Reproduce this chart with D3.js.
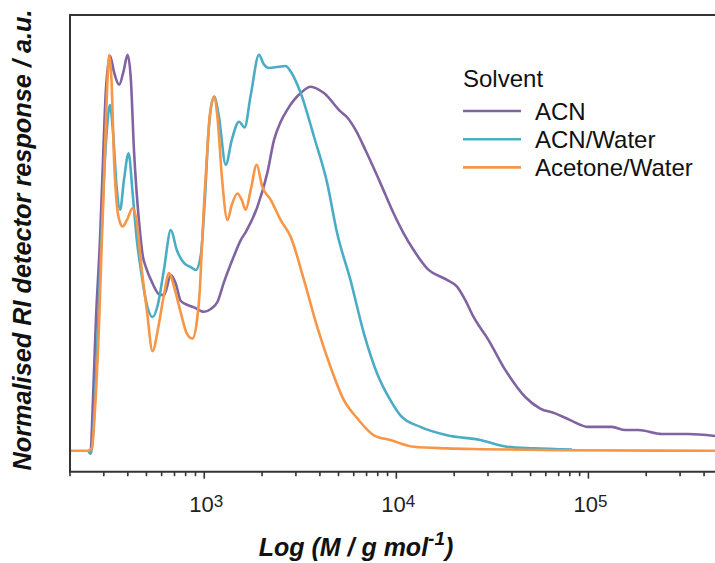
<!DOCTYPE html>
<html>
<head>
<meta charset="utf-8">
<script src="https://cdn.jsdelivr.net/npm/d3@7"></script>
<style>
  html, body { margin: 0; padding: 0; background: #fff; }
  svg { display: block; font-family: "Liberation Sans", Arial, sans-serif; }
</style>
</head>
<body>
<div id="chart"></div>
<script>
// [log10(M), normalised response]
const acn = [
  [2.3945, 0.003], [2.4075, -0.006], [2.4205, 0.128], [2.436, 0.329], [2.457, 0.530],
  [2.471, 0.706], [2.488, 0.907], [2.510, 0.992], [2.530, 0.952], [2.557, 0.920],
  [2.579, 0.952], [2.601, 0.995], [2.618, 0.932], [2.634, 0.756], [2.649, 0.643],
  [2.667, 0.543], [2.680, 0.490], [2.696, 0.462], [2.731, 0.421], [2.765, 0.394], [2.791, 0.392],
  [2.826, 0.442], [2.852, 0.420], [2.878, 0.377], [2.914, 0.367], [2.947, 0.361],
  [2.999, 0.350], [3.034, 0.357], [3.069, 0.375], [3.101, 0.422], [3.153, 0.488],
  [3.190, 0.530], [3.216, 0.550], [3.277, 0.614], [3.328, 0.698], [3.363, 0.781],
  [3.398, 0.827], [3.432, 0.857], [3.502, 0.899], [3.554, 0.915], [3.623, 0.899],
  [3.709, 0.853], [3.746, 0.837], [3.787, 0.807], [3.839, 0.756], [3.917, 0.673], [3.985, 0.598],
  [4.038, 0.547], [4.090, 0.505], [4.160, 0.459], [4.264, 0.430], [4.316, 0.413],
  [4.359, 0.379], [4.402, 0.337], [4.480, 0.279], [4.567, 0.204], [4.671, 0.136],
  [4.749, 0.107], [4.827, 0.095], [4.905, 0.078], [5.000, 0.061], [5.122, 0.061],
  [5.191, 0.053], [5.260, 0.053], [5.382, 0.043], [5.520, 0.043], [5.659, 0.038]
]

const acnWater = [
  [2.3945, 0.003], [2.410, -0.006], [2.431, 0.128], [2.452, 0.379], [2.4725, 0.631],
  [2.493, 0.807], [2.509, 0.869], [2.524, 0.807], [2.545, 0.656], [2.562, 0.606],
  [2.582, 0.681], [2.606, 0.748], [2.627, 0.648], [2.649, 0.530], [2.670, 0.455],
  [2.696, 0.379], [2.731, 0.337], [2.758, 0.367], [2.790, 0.455], [2.826, 0.555],
  [2.857, 0.505], [2.895, 0.472], [2.930, 0.462], [2.956, 0.455], [2.982, 0.492],
  [3.003, 0.631], [3.023, 0.807], [3.051, 0.890], [3.075, 0.844], [3.112, 0.719],
  [3.143, 0.781], [3.181, 0.827], [3.210, 0.813], [3.242, 0.894], [3.285, 0.995],
  [3.309, 0.972], [3.337, 0.962], [3.387, 0.965], [3.424, 0.967], [3.450, 0.953],
  [3.502, 0.899], [3.571, 0.790], [3.640, 0.673], [3.692, 0.547], [3.761, 0.430],
  [3.831, 0.296], [3.900, 0.195], [3.969, 0.128], [4.021, 0.090], [4.125, 0.061],
  [4.264, 0.040], [4.437, 0.028], [4.576, 0.011], [4.714, 0.007], [4.914, 0.004]
]

const acetoneWater = [
  [2.306, 0.001], [2.400, 0.001], [2.415, 0.008], [2.431, 0.103], [2.453, 0.329],
  [2.467, 0.530], [2.480, 0.706], [2.493, 0.894], [2.505, 0.995], [2.517, 0.932],
  [2.531, 0.724], [2.545, 0.618], [2.561, 0.575], [2.575, 0.564], [2.597, 0.580],
  [2.627, 0.610], [2.649, 0.575], [2.670, 0.475], [2.701, 0.354], [2.731, 0.251],
  [2.758, 0.304], [2.790, 0.392], [2.817, 0.447], [2.847, 0.405], [2.878, 0.347],
  [2.909, 0.296], [2.939, 0.283], [2.961, 0.324], [2.977, 0.405], [2.987, 0.505],
  [3.000, 0.631], [3.016, 0.756], [3.029, 0.844], [3.051, 0.889], [3.070, 0.832],
  [3.091, 0.693], [3.121, 0.580], [3.143, 0.618], [3.173, 0.647], [3.195, 0.631],
  [3.216, 0.606], [3.242, 0.656], [3.273, 0.719], [3.302, 0.664], [3.346, 0.631],
  [3.398, 0.580], [3.450, 0.538], [3.519, 0.430], [3.588, 0.312], [3.657, 0.212],
  [3.727, 0.128], [3.796, 0.083], [3.883, 0.040], [3.969, 0.028], [4.090, 0.011],
  [4.264, 0.007], [4.437, 0.005], [4.853, 0.0025], [5.659, 0.001]
]

const seriesNames = ["ACN", "ACN/Water", "Acetone/Water"]
const seriesData = [acn, acnWater, acetoneWater]
const majorTicks = [1e3, 1e4, 1e5]
const tickExponents = ["3", "4", "5"]

const colors = ["#8064a2", "#4bacc6", "#f79646"]
const width = 715, height = 563
const mLeft = 70, mRight = 715, mTop = 15, mBottom = 471.7

const svg = d3.select("#chart").append("svg")
  .attr("width", width)
  .attr("height", height)

const x = d3.scaleLog().domain([200, Math.pow(10, 5.659)]).range([mLeft, mRight])
const y = d3.scaleLinear().domain([-0.0515, 1.095]).range([mBottom, mTop])

svg.append("defs").append("clipPath").attr("id", "plot")
  .append("rect").attr("x", mLeft).attr("y", mTop).attr("width", mRight - mLeft).attr("height", mBottom - mTop)

const line = d3.line()
  .x(d => x(Math.pow(10, d[0])))
  .y(d => y(d[1]))
  .curve(d3.curveMonotoneX)

const g = svg.append("g").attr("clip-path", "url(#plot)")
// orange drawn last so it sits on top, like the original
seriesData.forEach((s, i) => {
  g.append("path")
    .datum(s)
    .attr("d", line)
    .attr("fill", "none")
    .attr("stroke", colors[i])
    .attr("stroke-width", 2.6)
    .attr("stroke-linejoin", "round")
})

// minor / major ticks on the bottom axis
const minor = []
for (let e = 2; e <= 5; e++) {
  for (let k = 1; k <= 9; k++) {
    const v = k * Math.pow(10, e)
    if (v >= 200 && v <= x.domain()[1]) minor.push(v)
  }
}
svg.append("g").selectAll("line").data(minor).join("line")
  .attr("x1", d => x(d)).attr("x2", d => x(d))
  .attr("y1", mBottom)
  .attr("y2", d => majorTicks.includes(d) ? mBottom + 7 : mBottom + 4.5)
  .attr("stroke", "#333")
  .attr("stroke-width", 1.6)

// frame (right side is cut off in the original)
svg.append("path")
  .attr("d", `M${mRight},${mTop}H${mLeft}V${mBottom}H${mRight}`)
  .attr("fill", "none")
  .attr("stroke", "#333")
  .attr("stroke-width", 2)

const tl = svg.append("g").selectAll("text").data(majorTicks).join("text")
  .attr("x", d => x(d) + 2)
  .attr("y", 512)
  .attr("text-anchor", "middle")
  .style("font-size", "22px")
  .attr("fill", "#222")
tl.append("tspan").text("10")
tl.append("tspan").attr("dy", -5).style("font-size", "17px").text((d, i) => tickExponents[i])

// axis titles
const xt = svg.append("text")
  .attr("x", 356).attr("y", 556)
  .attr("text-anchor", "middle")
  .style("font-size", "25px")
  .attr("font-weight", "bold")
  .attr("font-style", "italic")
  .attr("fill", "#111")
xt.append("tspan").text("Log (M / g mol")
xt.append("tspan").attr("dy", -11).style("font-size", "19px").text("-1")
xt.append("tspan").attr("dy", 11).text(")")

svg.append("text")
  .attr("transform", "translate(31,240) rotate(-90)")
  .attr("text-anchor", "middle")
  .style("font-size", "25.3px")
  .attr("font-weight", "bold")
  .attr("font-style", "italic")
  .attr("fill", "#111")
  .text("Normalised RI detector response / a.u.")

// legend
const lg = svg.append("g").attr("transform", "translate(463,0)")
lg.append("text").attr("x", 0).attr("y", 87).style("font-size", "24px").attr("fill", "#111").text("Solvent")
seriesNames.forEach((name, i) => {
  const cy = 111 + i * 28.2
  lg.append("line")
    .attr("x1", 0).attr("x2", 58)
    .attr("y1", cy).attr("y2", cy)
    .attr("stroke", colors[i])
    .attr("stroke-width", 2.6)
  lg.append("text")
    .attr("x", 72).attr("y", cy + 8.5)
    .style("font-size", "24px")
    .attr("fill", "#111")
    .text(name)
})
</script>
</body>
</html>
